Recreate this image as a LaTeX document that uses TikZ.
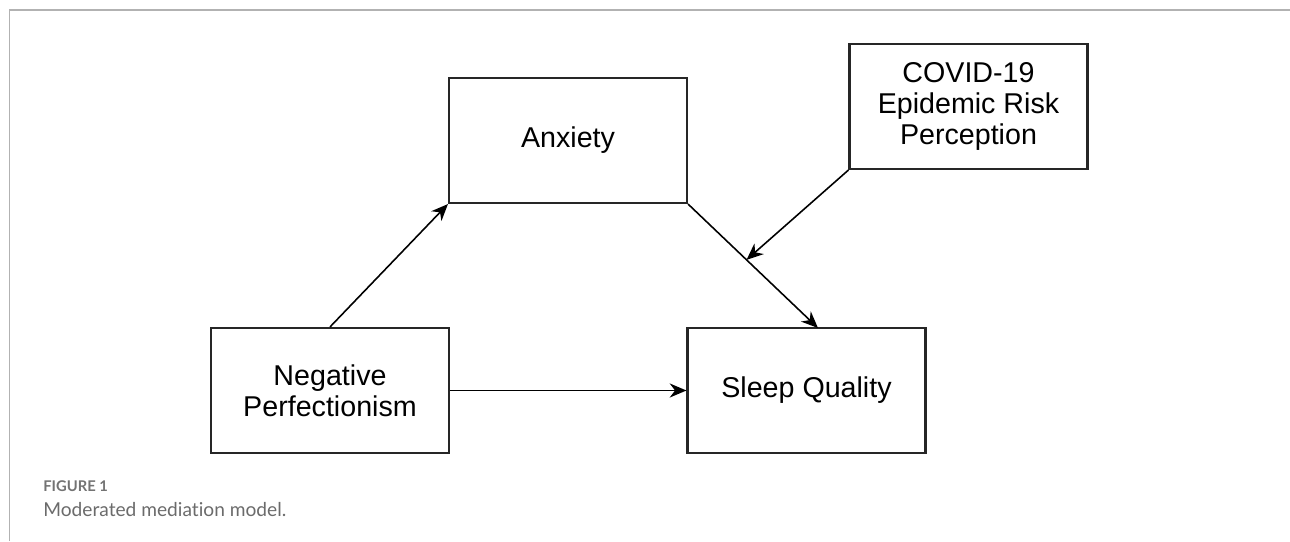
\documentclass[tikz,border=0pt]{standalone}
\usepackage{fontspec}
\setmainfont{Liberation Sans}
\newfontfamily\capfont[Ligatures=NoCommon]{Lato}
\usetikzlibrary{arrows.meta}

\tikzset{
	box/.style={draw=black!85, line width=1.2pt, minimum width=4.76cm, minimum height=2.5cm, inner sep=0pt, align=center, font=\fontsize{16.3}{17.5}\selectfont},
	link/.style={-{Stealth[length=9.5pt, width=8pt, inset=3pt]}, line width=0.9pt}
}

\begin{document}
\begin{tikzpicture}
					\useasboundingbox (0,0) rectangle (25.8,10.82);
					\draw[black!30, line width=0.6pt] (0.19,0) -- (0.19,10.62) -- (25.8,10.62);
					
					\node[box] (anx) at (11.36,8.01) {Anxiety};
					\node[box] (cov) at (19.37,8.69) {COVID-19\\Epidemic Risk\\Perception};
					\node[box] (neg) at (6.6,3.01) {Negative\\Perfectionism};
					\node[box] (slp) at (16.13,3.01) {Sleep Quality};
					
					\coordinate (top) at (16.36,4.26);
					\path (anx.south east) -- (top) coordinate[pos=0.45] (mid);
					
					\draw[link] (neg.north) -- (anx.south west);
					\draw[link] (anx.south east) -- (top);
					\draw[link] (cov.south west) -- (mid);
					\draw[link] (neg.east) -- (slp.west);
					
					\node[anchor=base west, inner sep=0pt, text=black!55, font=\capfont\bfseries\fontsize{8.4}{10}\selectfont] (fig) at (0.86,1.0) {FIGURE 1};
					\node[anchor=base west, inner sep=0pt, text=black!58, font=\capfont\fontsize{10.9}{12}\selectfont] (cap) at (0.86,0.5) {Moderated mediation model.};
				\end{tikzpicture}
\end{document}
